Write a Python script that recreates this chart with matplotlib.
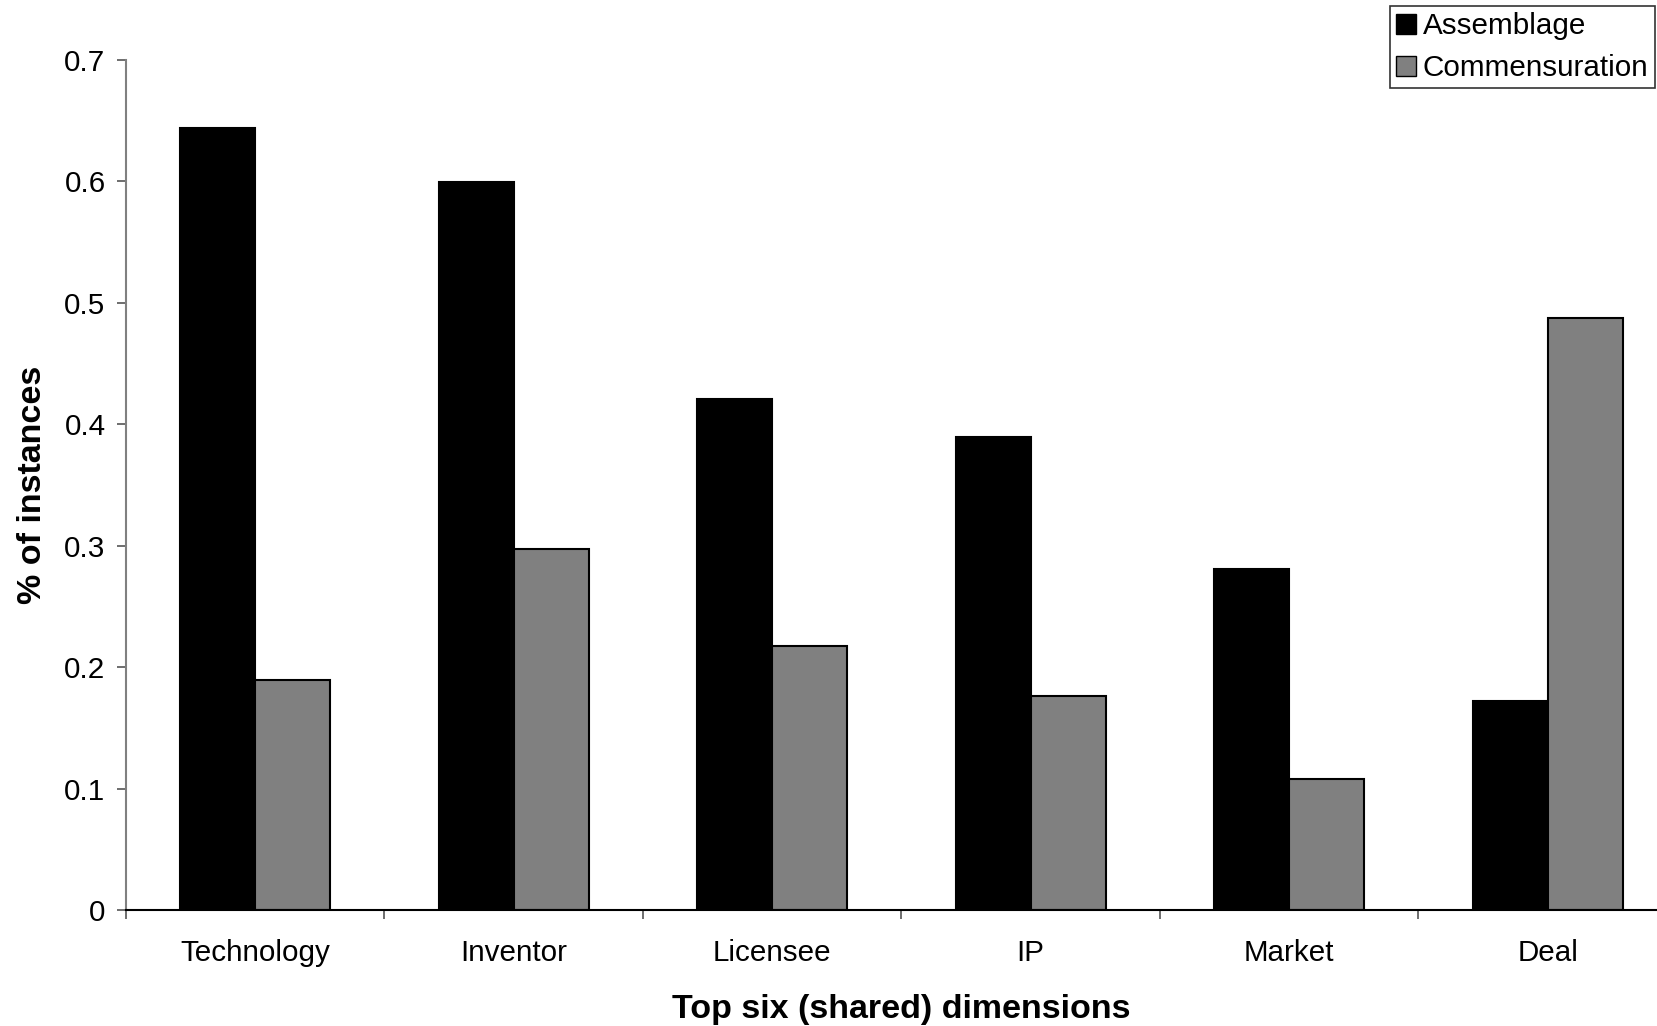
import numpy as np
import matplotlib.pyplot as plt
from matplotlib.patches import Patch

plt.rcParams['font.family'] = ['Liberation Sans', 'DejaVu Sans']

# Share of instances per dimension
categories = ['Technology', 'Inventor', 'Licensee', 'IP', 'Market', 'Deal']
assemblage = [0.644, 0.599, 0.421, 0.389, 0.281, 0.172]
commensuration = [0.189, 0.297, 0.217, 0.176, 0.108, 0.487]

x = np.arange(len(categories))
w = 0.29

fig = plt.figure(figsize=(16.57, 10.26), dpi=100)
ax = fig.add_axes([0.076, 0.113, 0.936, 0.829])

ax.bar(x - w / 2, assemblage, w, color='black', edgecolor='black', linewidth=1.5,
       label='Assemblage')
ax.bar(x + w / 2, commensuration, w, color='#808080', edgecolor='black', linewidth=1.5,
       label='Commensuration')

ax.set_xlim(-0.5, len(categories) - 0.5)
ax.set_ylim(0, 0.7)
ax.set_yticks(np.arange(0, 0.71, 0.1))
ax.set_yticklabels(['0', '0.1', '0.2', '0.3', '0.4', '0.5', '0.6', '0.7'])

# category labels at centres, tick marks at the boundaries
ax.set_xticks(x)
ax.set_xticklabels(categories)
ax.set_xticks(np.arange(-0.5, len(categories), 1), minor=True)
ax.tick_params(axis='x', which='major', length=0, pad=21, labelsize=21.3)
ax.tick_params(axis='x', which='minor', length=6.7, width=1.2, color='#555555')
ax.tick_params(axis='y', length=6.7, width=1.2, color='#555555', pad=8, labelsize=21.3)

for s in ['top', 'right']:
    ax.spines[s].set_visible(False)
ax.spines['left'].set_color('#808080')
ax.spines['left'].set_linewidth(1.5)
ax.spines['bottom'].set_color('black')
ax.spines['bottom'].set_linewidth(1.5)

ax.set_xlabel('Top six (shared) dimensions', fontsize=24.5, fontweight='bold', labelpad=19)
ax.set_ylabel('% of instances', fontsize=24.5, fontweight='bold', labelpad=12)

handles = [Patch(facecolor='black', edgecolor='black'),
           Patch(facecolor='#808080', edgecolor='black')]
leg = fig.legend(handles, ['Assemblage', 'Commensuration'], loc='upper right',
                 bbox_to_anchor=(0.9985, 0.994), fontsize=21.3, frameon=True, fancybox=False,
                 edgecolor='black', handlelength=0.65, handleheight=0.65, handletextpad=0.25,
                 borderpad=0.2, labelspacing=0.48, borderaxespad=0)
leg.get_frame().set_linewidth(1.2)

fig.savefig('out.png', dpi=100)
